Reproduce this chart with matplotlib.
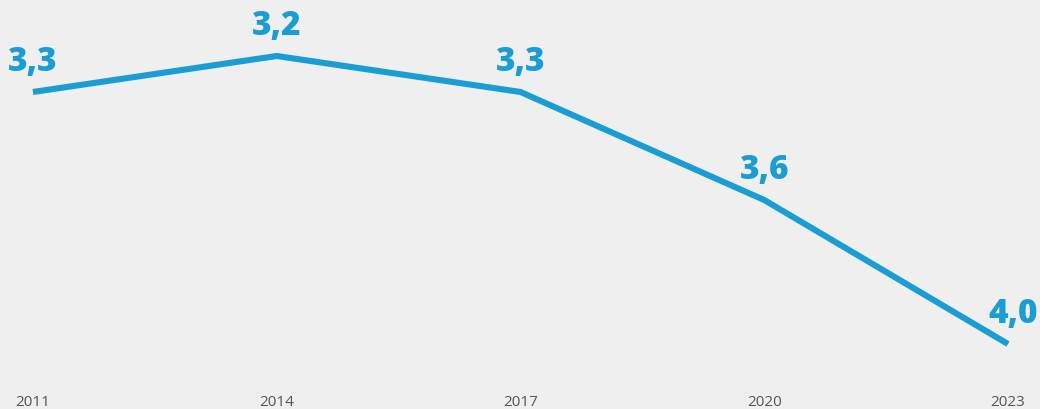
import matplotlib
matplotlib.use("Agg")
import matplotlib.pyplot as plt

years = [2011, 2014, 2017, 2020, 2023]
values = [3.3, 3.2, 3.3, 3.6, 4.0]
labels = ["3,3", "3,2", "3,3", "3,6", "4,0"]

color = "#1a9dd3"
bg = "#efefef"

fig = plt.figure(figsize=(10.4, 4.1), dpi=100, facecolor=bg)
ax = fig.add_axes([0, 0, 1, 1], facecolor=bg)
ax.plot(years, values, color=color, lw=4.4, solid_capstyle="butt", solid_joinstyle="miter")

ax.set_xlim(2010.594, 2023.394)
ax.set_ylim(4.1806, 3.0417)

for i, (x, y, t) in enumerate(zip(years, values, labels)):
    dx = 4 if i == len(years) - 1 else 0
    ax.annotate(t, (x, y), xytext=(dx, 10), textcoords="offset points",
                ha="center", va="bottom", color=color, fontsize=24,
                fontweight="heavy", family=["Open Sans", "DejaVu Sans"])

ax.set_xticks(years)
ax.set_xticklabels([str(y) for y in years], family=["Open Sans", "DejaVu Sans"],
                   fontsize=11, color="#555555")
ax.tick_params(axis="x", length=0, pad=-10.5, direction="in")
ax.set_yticks([])
for s in ax.spines.values():
    s.set_visible(False)

fig.savefig("out.png", dpi=100, facecolor=bg)
